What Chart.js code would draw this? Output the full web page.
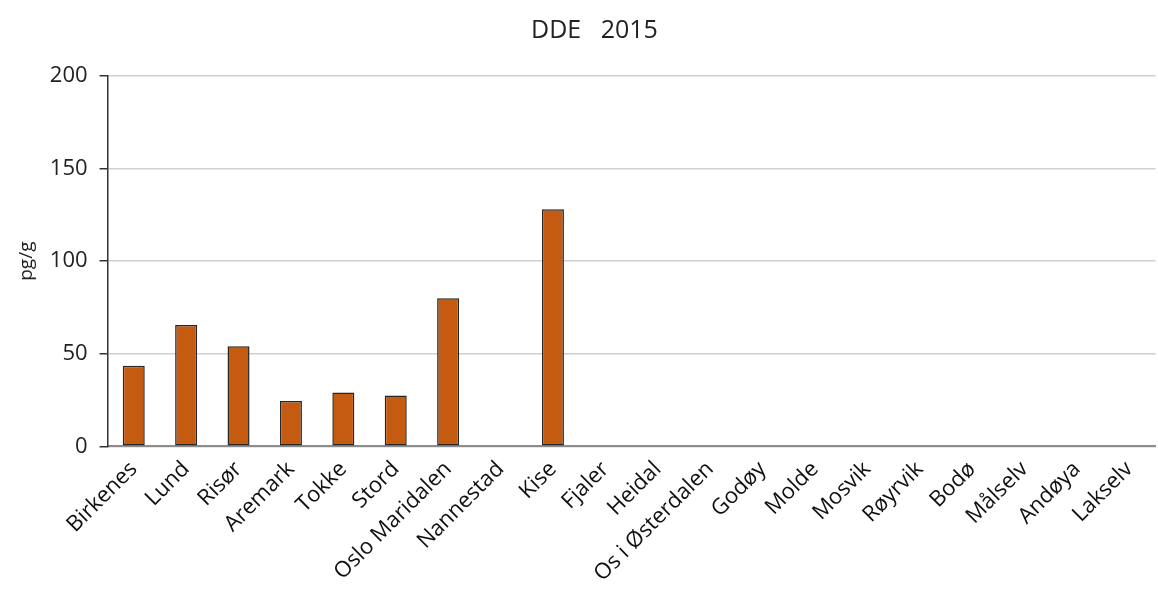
<!DOCTYPE html>
<html lang="no">
<head>
    <meta charset="UTF-8">
    <title>DDE 2015</title>
    <script src="https://cdn.jsdelivr.net/npm/chart.js"></script>
    <style>
        body { margin: 0; background: #ffffff; }
        #wrap { width: 1158px; height: 597px; }
    </style>
</head>
<body>
    <div id="wrap"><canvas id="ddeChart"></canvas></div>

    <script>
        // stations and DDE values (pg/g), null = no bar
        const stations = ["Birkenes", "Lund", "Risør", "Aremark", "Tokke", "Stord", "Oslo Maridalen",
            "Nannestad", "Kise", "Fjaler", "Heidal", "Os i Østerdalen", "Godøy", "Molde", "Mosvik",
            "Røyrvik", "Bodø", "Målselv", "Andøya", "Lakselv"];
        const ddeValues = [43.5, 65.5, 54, 24.5, 29, 27.5, 80, null, 128, null, null, null, null, null,
            null, null, null, null, null, null];
        const yTicks = [0, 50, 100, 150, 200];

        const font = "'Open Sans', 'Noto Sans', sans-serif";

        new Chart(document.getElementById("ddeChart"), {
            type: "bar",
            data: {
                labels: stations,
                datasets: [{
                    label: "DDE",
                    data: ddeValues,
                    backgroundColor: "#c55a11",
                    borderColor: "#262626",
                    borderWidth: 1.5,
                    borderSkipped: false,
                    barPercentage: 0.42,
                    categoryPercentage: 1
                }]
            },
            options: {
                responsive: true,
                maintainAspectRatio: false,
                animation: false,
                layout: { padding: { top: 10, right: -20, left: 11, bottom: 0 } },
                plugins: {
                    legend: { display: false },
                    tooltip: { enabled: false },
                    title: {
                        display: true,
                        text: "DDE   2015",
                        color: "#222",
                        font: { family: font, size: 25, weight: "normal" },
                        padding: { top: 6, bottom: 30 }
                    }
                },
                scales: {
                    x: {
                        grid: { display: false, drawTicks: false },
                        border: { color: "#8c8c8c", width: 2 },
                        ticks: {
                            color: "#111",
                            font: { family: font, size: 22 },
                            minRotation: 45,
                            maxRotation: 45,
                            autoSkip: false,
                            padding: 10
                        }
                    },
                    y: {
                        min: 0,
                        max: 200,
                        afterBuildTicks: axis => { axis.ticks = yTicks.map(v => ({ value: v })); },
                        grid: { color: "#d0d0d0", lineWidth: 1.5, tickColor: "#333", tickLength: 8 },
                        border: { color: "#333", width: 1.5 },
                        ticks: {
                            color: "#222",
                            font: { family: font, size: 22 },
                            padding: 12
                        },
                        title: {
                            display: true,
                            text: "pg/g",
                            color: "#222",
                            font: { family: font, size: 19 },
                            padding: { bottom: 0 }
                        }
                    }
                }
            }
        });
    </script>
</body>
</html>
